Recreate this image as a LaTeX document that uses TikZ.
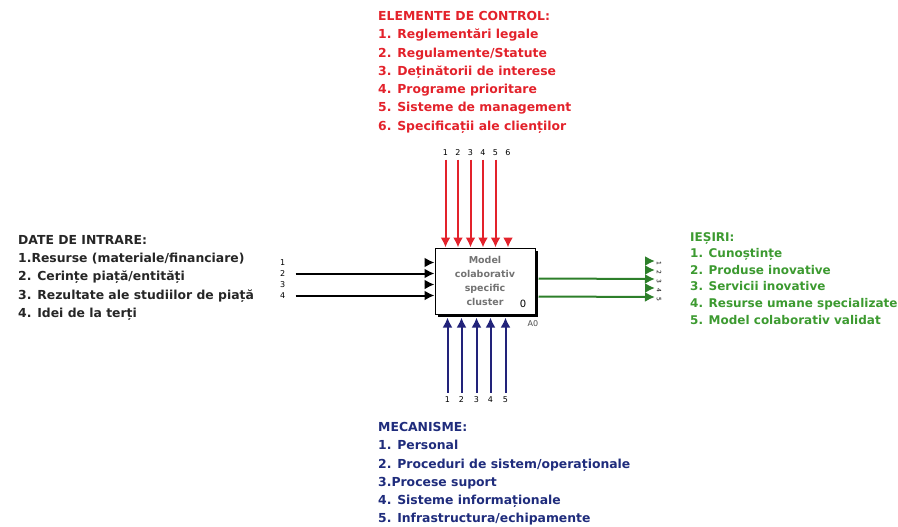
\documentclass[tikz,border=0pt]{standalone}
\usepackage{fontspec}
\setmainfont{DejaVu Sans}
\usepackage{xcolor}
\usetikzlibrary{positioning, arrows.meta, shadows}
\definecolor{ctrlred}{HTML}{E3222B}
\definecolor{mechblue}{HTML}{1F2C7C}
\definecolor{mechline}{HTML}{22237A}
\definecolor{outgreen}{HTML}{3C9A30}
\definecolor{outline}{HTML}{2D7F2A}

\begin{document}
\begin{tikzpicture}[x=1pt, y=-1pt,
    txt/.style={font=\bfseries\fontsize{12.4}{18.3}\selectfont, align=left,
                anchor=north west, inner sep=0pt},
    num/.style={font=\fontsize{8}{8}\selectfont, inner sep=0pt},
    arr/.style={-{Latex[length=10pt, width=10pt]}, line width=2pt},
  ]
  \useasboundingbox (0,0) rectangle (898,527);
  % activity box
  \node[draw, line width=1pt, fill=white, minimum width=100pt, minimum height=66pt,
        inner sep=0pt, general shadow={fill=black, shadow xshift=3pt, shadow yshift=-3pt},
        font=\bfseries\fontsize{9.5}{14}\selectfont, text=black!55, align=center]
        (act) at (485,281) {Model\\colaborativ\\specific\\cluster};
  \node[font=\fontsize{10}{10}\selectfont, inner sep=0pt] (nr) at (523,304) {0};
  \node[font=\fontsize{8}{8}\selectfont, text=black!70, inner sep=0pt] (aid) at (533,324) {A0};

  % controls (top)
  \coordinate (c1) at ([xshift=11pt]act.north west);
  \coordinate (c2) at ([xshift=23.5pt]act.north west);
  \coordinate (c3) at ([xshift=36pt]act.north west);
  \coordinate (c4) at ([xshift=48.5pt]act.north west);
  \coordinate (c5) at ([xshift=61pt]act.north west);
  \coordinate (c6) at ([xshift=73.5pt]act.north west);
  \coordinate (c6h) at ([yshift=10pt]c6);
  \foreach \i in {1,...,6}{
    \coordinate (t\i) at ([yshift=88pt]c\i);
    \node[num, above=4pt of t\i] (tn\i) {\i};
  }
  \draw[arr, ctrlred] (t1) -- (c1);
  \draw[arr, ctrlred] (t2) -- (c2);
  \draw[arr, ctrlred] (t3) -- (c3);
  \draw[arr, ctrlred] (t4) -- (c4);
  \draw[arr, ctrlred] (t5) -- (c5);
  \draw[arr, ctrlred] (c6h) -- (c6);

  % mechanisms (bottom)
  \coordinate (m1) at ([xshift=13pt, yshift=-3pt]act.south west);
  \coordinate (m2) at ([xshift=27pt, yshift=-3pt]act.south west);
  \coordinate (m3) at ([xshift=42pt, yshift=-3pt]act.south west);
  \coordinate (m4) at ([xshift=56pt, yshift=-3pt]act.south west);
  \coordinate (m5) at ([xshift=71pt, yshift=-3pt]act.south west);
  \foreach \i in {1,...,5}{
    \coordinate (b\i) at ([yshift=-75pt]m\i);
    \node[num, below=4pt of b\i] (bn\i) {\i};
    \draw[arr, mechline] (b\i) -- (m\i);
  }

  % inputs (left)
  \coordinate (i1) at ([yshift=-15pt]act.north west);
  \coordinate (i2) at ([yshift=-26pt]act.north west);
  \coordinate (i3) at ([yshift=-37pt]act.north west);
  \coordinate (i4) at ([yshift=-48pt]act.north west);
  \foreach \i in {1,...,4}{
    \coordinate (s\i) at ([xshift=-139pt]i\i);
    \node[num, left=10pt of s\i] (sn\i) {\i};
  }
  \coordinate (i1h) at ([xshift=-10pt]i1);
  \coordinate (i3h) at ([xshift=-10pt]i3);
  \draw[arr] (i1h) -- (i1);
  \draw[arr] (s2) -- (i2);
  \draw[arr] (i3h) -- (i3);
  \draw[arr] (s4) -- (i4);

  % outputs (right)
  \coordinate (e3) at ([xshift=3pt, yshift=-31pt]act.north east);
  \coordinate (e5) at ([xshift=3pt, yshift=-49pt]act.north east);
  \coordinate (o1) at (655,261);
  \coordinate (o2) at (655,270);
  \coordinate (o3) at (655,279);
  \coordinate (o4) at (655,288);
  \coordinate (o5) at (655,297);
  \foreach \i in {1,2,4}{
    \coordinate (oh\i) at ([xshift=-10pt]o\i);
    \draw[arr, outline] (oh\i) -- (o\i);
  }
  \draw[arr, outline] (e3) -- (o3);
  \draw[arr, outline] (e5) -- (o5);
  \foreach \i in {1,...,5}
    \node[num, font=\fontsize{6}{6}\selectfont, rotate=-90, right=4pt of o\i] (on\i) {\i};

  % text blocks
  \node[txt, text=ctrlred] (ctrl) at (378,11) {ELEMENTE DE CONTROL:\\
    1. Reglementări legale\\2. Regulamente/Statute\\3. Deținătorii de interese\\
    4. Programe prioritare\\5. Sisteme de management\\6. Specificații ale clienților};
  \node[txt, text=black!85] (inp) at (18,235) {DATE DE INTRARE:\\
    1.Resurse (materiale/financiare)\\2. Cerințe piață/entități\\
    3. Rezultate ale studiilor de piață\\4. Idei de la terți};
  \node[txt, text=outgreen, font=\bfseries\fontsize{12}{16.6}\selectfont] (outp) at (690,232) {IEȘIRI:\\
    1. Cunoștințe\\2. Produse inovative\\3. Servicii inovative\\
    4. Resurse umane specializate\\5. Model colaborativ validat};
  \node[txt, text=mechblue] (mech) at (378,422) {MECANISME:\\
    1. Personal\\2. Proceduri de sistem/operaționale\\3.Procese suport\\
    4. Sisteme informaționale\\5. Infrastructura/echipamente};
\end{tikzpicture}
\end{document}
